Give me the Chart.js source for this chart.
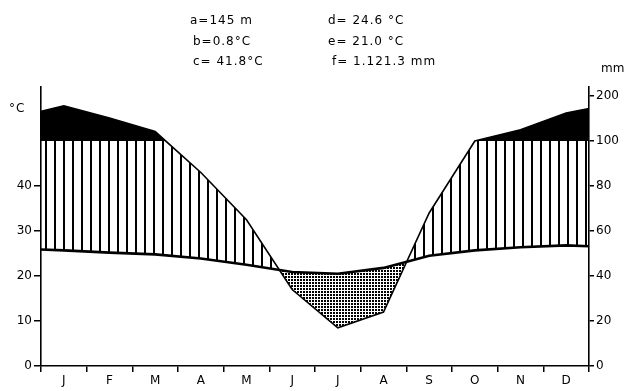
<!DOCTYPE html>
<html>
<head>
<meta charset="utf-8">
<script src="https://cdn.jsdelivr.net/npm/chart.js@4.4.1/dist/chart.umd.min.js"></script>
<style>
html, body { margin: 0; padding: 0; background: #fff; }
#wrap { position: relative; width: 630px; height: 391px; }
#climate-chart { position: absolute; left: 0; top: 0; }
.lbl { position: absolute; font-family: "DejaVu Sans", sans-serif; font-size: 12px; line-height: 1; color: #000; letter-spacing: 1px; white-space: nowrap; }
</style>
</head>
<body>
<div id="wrap">
  <canvas id="climate-chart" width="630" height="391"></canvas>
  <div class="lbl" style="left:190px;top:14px">a=145 m</div>
  <div class="lbl" style="left:193px;top:35px">b=0.8°C</div>
  <div class="lbl" style="left:193px;top:55px">c= 41.8°C</div>
  <div class="lbl" style="left:328px;top:14px">d= 24.6 °C</div>
  <div class="lbl" style="left:328px;top:35px">e= 21.0 °C</div>
  <div class="lbl" style="left:332px;top:55px">f= 1.121.3 mm</div>
  <div class="lbl" style="left:9px;top:102px">°C</div>
  <div class="lbl" style="left:601px;top:62px;letter-spacing:0">mm</div>
</div>
<script>
var months = ['J', 'F', 'M', 'A', 'M', 'J', 'J', 'A', 'S', 'O', 'N', 'D'];
// mean monthly temperature (°C)
var temp_c = [25.7, 25.2, 24.8, 23.9, 22.5, 20.9, 20.5, 21.8, 24.5, 25.7, 26.4, 26.8];
// monthly precipitation (mm)
var precip_mm = [178, 151, 121, 86, 65, 34, 17, 24, 68, 100, 125, 162];
// values read at the left / right border of the diagram
var temp_edge = [25.9, 26.6];
var precip_edge = [166, 172];
var temp_ticks = [0, 10, 20, 30, 40];
var precip_ticks = [0, 20, 40, 60, 80, 100, 200];

// 10 °C = 20 mm, above 100 mm the scale is reduced
function mm_to_units(mm) {
	return mm <= 100 ? mm / 2 : 50 + (mm - 100) / 10;
}

function series(edge, vals, f) {
	var pts = [{x: 0, y: f(edge[0])}];
	for (var i = 0; i < vals.length; i++) {
		pts.push({x: i + 0.5, y: f(vals[i])});
	}
	pts.push({x: 12, y: f(edge[1])});
	return pts;
}

function same(v) { return v; }

// vertical hatch for the humid period
function make_hatch() {
	var c = document.createElement('canvas');
	c.width = 9; c.height = 4;
	var g = c.getContext('2d');
	g.fillStyle = '#000';
	g.fillRect(0, 0, 2, 4);
	return g.createPattern(c, 'repeat');
}

// dots for the arid period
function make_dots() {
	var c = document.createElement('canvas');
	c.width = 3; c.height = 3;
	var g = c.getContext('2d');
	g.fillStyle = '#000';
	g.fillRect(0, 0, 2, 2);
	return g.createPattern(c, 'repeat');
}

var temp_pts = series(temp_edge, temp_c, same);
var precip_pts = series(precip_edge, precip_mm, mm_to_units);

var tick_font = {family: '"DejaVu Sans", sans-serif', size: 12};

var x_ticks = [];
for (var k = 0; k <= 24; k++) x_ticks.push({value: k / 2});

var ctx = document.getElementById('climate-chart').getContext('2d');
var chart = new Chart(ctx, {
	type: 'line',
	data: {
		datasets: [{
			label: 'temperature',
			data: temp_pts,
			borderColor: '#000',
			borderWidth: 2.6,
			pointRadius: 0,
			tension: 0,
			fill: false
		}, {
			label: 'precipitation',
			data: precip_pts,
			borderColor: '#000',
			borderWidth: 1.6,
			pointRadius: 0,
			tension: 0,
			fill: {target: {value: 50}, above: '#000', below: 'rgba(0,0,0,0)'}
		}, {
			label: 'humid / arid',
			data: precip_pts,
			borderWidth: 0,
			borderColor: 'rgba(0,0,0,0)',
			pointRadius: 0,
			tension: 0,
			fill: {target: 0, above: make_hatch(), below: make_dots()}
		}]
	},
	options: {
		responsive: false,
		animation: false,
		layout: {padding: {top: 87, left: 0, right: 0, bottom: 0}},
		plugins: {legend: {display: false}, tooltip: {enabled: false}},
		scales: {
			x: {
				type: 'linear',
				min: 0,
				max: 12,
				border: {color: '#000', width: 1.6},
				grid: {
					drawOnChartArea: false,
					tickLength: 6,
					lineWidth: 1.5,
					color: function (c) { return c.tick && c.tick.value % 1 === 0 ? '#000' : 'rgba(0,0,0,0)'; }
				},
				afterBuildTicks: function (axis) { axis.ticks = x_ticks.slice(); },
				afterFit: function (axis) { axis.height = 25; },
				ticks: {
					autoSkip: false,
					maxRotation: 0,
					padding: 2,
					color: '#000',
					font: tick_font,
					callback: function (v) { return v % 1 ? months[Math.floor(v)] : ''; }
				}
			},
			y: {
				position: 'left',
				min: 0,
				max: 62,
				border: {color: '#000', width: 1.6},
				grid: {drawOnChartArea: false, tickLength: 7, color: '#000', lineWidth: 1.5},
				afterBuildTicks: function (axis) {
					axis.ticks = temp_ticks.map(function (v) { return {value: v}; });
				},
				afterFit: function (axis) { axis.width = 41; },
				ticks: {padding: 2, color: '#000', font: tick_font}
			},
			yp: {
				position: 'right',
				min: 0,
				max: 62,
				border: {color: '#000', width: 1.6},
				grid: {drawOnChartArea: false, tickLength: 5, color: '#000', lineWidth: 1.5},
				afterBuildTicks: function (axis) {
					axis.ticks = precip_ticks.map(function (v) { return {value: mm_to_units(v)}; });
				},
				afterFit: function (axis) { axis.width = 41; },
				ticks: {
					padding: 2,
					color: '#000',
					font: tick_font,
					callback: function (v, i) { return String(precip_ticks[i]); }
				}
			}
		}
	}
});
</script>
</body>
</html>
